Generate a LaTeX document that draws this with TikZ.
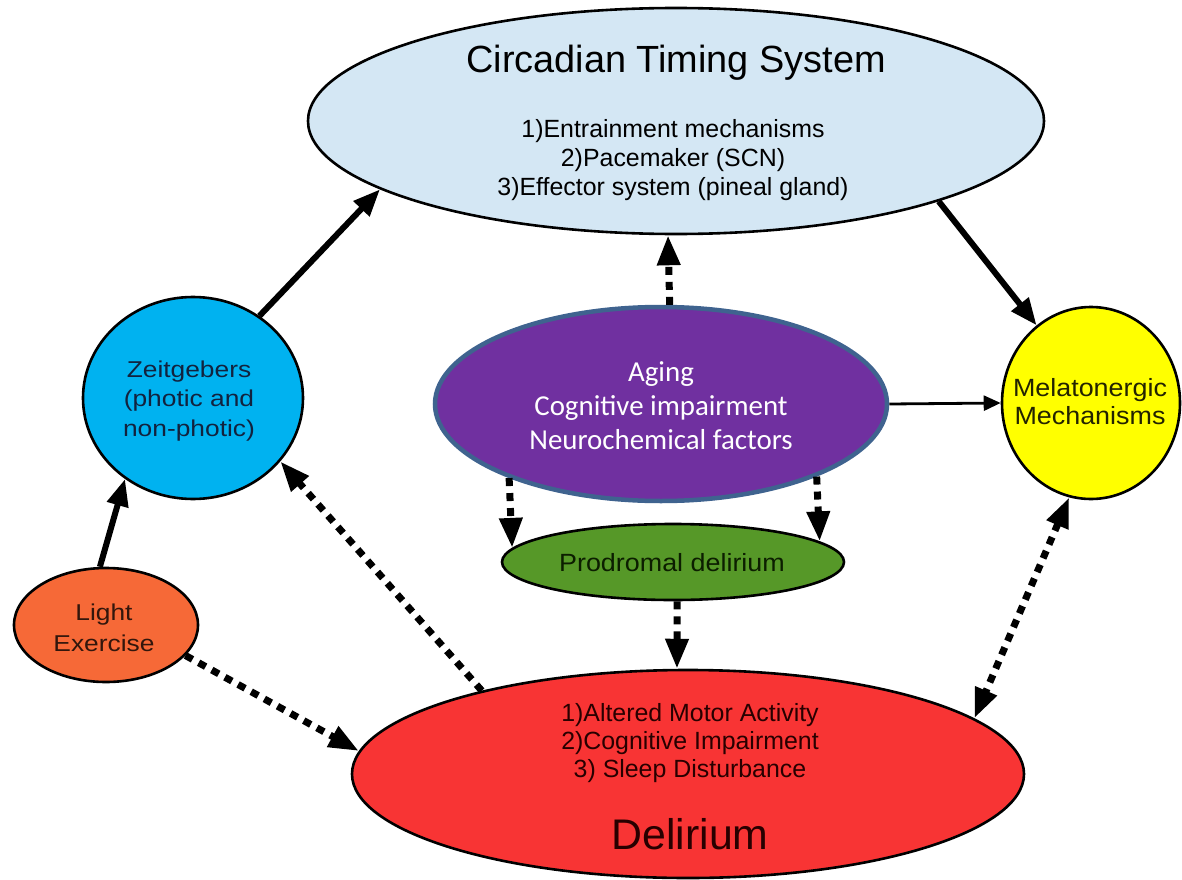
\documentclass[tikz,border=0pt]{standalone}
\usepackage{fontspec}
\setmainfont{Liberation Sans}
\newfontfamily\wideA[FakeStretch=1.15]{Liberation Sans}
\newfontfamily\midA[FakeStretch=1.08]{Liberation Sans}
\newfontfamily\calibri{Carlito}
\usetikzlibrary{arrows.meta,shapes.geometric}

\definecolor{ctsblue}{RGB}{212,231,244}
\definecolor{zeitblue}{RGB}{0,178,240}
\definecolor{lightorange}{RGB}{246,105,55}
\definecolor{agepurple}{RGB}{112,48,160}
\definecolor{ageborder}{RGB}{63,99,143}
\definecolor{prodgreen}{RGB}{86,152,40}
\definecolor{delred}{RGB}{248,52,52}
\definecolor{melyellow}{RGB}{255,255,0}

\tikzset{
  oval/.style={ellipse, draw=black, line width=2.6bp, inner sep=0pt},
  txt/.style={align=center, inner sep=0pt},
  solidarr/.style={line width=6bp, -{Triangle[length=27bp,width=21bp]}},
  dotarr/.style={line width=7bp, dash pattern=on 8bp off 7bp, -{Triangle[length=30bp,width=22bp]}},
  dotboth/.style={line width=7bp, dash pattern=on 8bp off 7bp, {Triangle[length=30bp,width=22bp]}-{Triangle[length=30bp,width=22bp]}},
  thinarr/.style={line width=2.8bp, -{Triangle[length=17bp,width=15bp]}},
}

\begin{document}
\begin{tikzpicture}[x=1bp,y=-1bp]
  \fill[white] (0,0) rectangle (1182,880);
  \useasboundingbox (0,0) rectangle (1182,880);

  % shapes
  \node[oval, fill=ctsblue, minimum width=736bp, minimum height=226bp] (cts) at (676,121) {};
  \node[oval, fill=zeitblue, minimum width=220bp, minimum height=202bp] (zeit) at (193,398) {};
  \node[oval, fill=lightorange, minimum width=184bp, minimum height=114bp] (light) at (106,625) {};
  \node[ellipse, draw=ageborder, line width=4.5bp, inner sep=0pt, fill=agepurple, minimum width=452bp, minimum height=194bp] (age) at (661,404) {};
  \node[oval, fill=prodgreen, minimum width=342bp, minimum height=76bp] (prod) at (673,562) {};
  \node[oval, fill=delred, minimum width=672bp, minimum height=208bp] (del) at (688,774) {};
  \node[oval, fill=melyellow, minimum width=178bp, minimum height=192bp] (mel) at (1091,403) {};

  % texts
  \node[txt, font=\fontsize{38}{44}\selectfont] (ctsTitle) at (676,63) {Circadian Timing System};
  \node[txt, font=\fontsize{25}{29}\selectfont] (ctsList) at (673,160) {1)Entrainment mechanisms\\2)Pacemaker (SCN)\\3)Effector system (pineal gland)};
  \node[txt, font=\fontsize{23}{30}\selectfont\wideA, text={rgb,255:red,18;green,34;blue,62}] (zeitText) at (189,401) {Zeitgebers\\(photic and\\non-photic)};
  \node[txt, font=\fontsize{23}{31}\selectfont\wideA, text={rgb,255:red,50;green,22;blue,12}] (lightText) at (104,628) {Light\\Exercise};
  \node[txt, font=\fontsize{29}{34}\selectfont\calibri, text=white] (ageText) at (661,406) {Aging\\Cognitive impairment\\Neurochemical factors};
  \node[txt, font=\fontsize{25}{28}\selectfont\midA, text={rgb,255:red,35;green,35;blue,0}] (melText) at (1090,402) {Melatonergic\\Mechanisms};
  \node[txt, font=\fontsize{25}{29}\selectfont\midA, text={rgb,255:red,12;green,30;blue,0}] (prodText) at (672,563) {Prodromal delirium};
  \node[txt, font=\fontsize{25}{28}\selectfont, text={rgb,255:red,40;green,0;blue,0}] (delList) at (690,743) {1)Altered Motor Activity\\2)Cognitive Impairment\\3) Sleep Disturbance};
  \node[txt, font=\fontsize{43}{48}\selectfont, text={rgb,255:red,40;green,0;blue,0}] (delTitle) at (690,834) {Delirium};

  % solid connectors
  \draw[solidarr] (zeit.51.9) -- (cts.193.7);
  \draw[solidarr] (light.96) -- (zeit.230.1);
  \draw[solidarr] (cts.343) -- (mel.125.3);
  \draw[thinarr] (age.east) -- (mel.west);

  % dotted connectors
  \draw[dotarr] (age.85.9) -- (cts.266.1);
  \draw[dotarr] (age.206.35) -- (prod.175.2);
  \draw[dotarr] (age.335.77) -- (prod.8.1);
  \draw[dotarr] (prod.276) -- (del.96.2);
  \draw[dotarr] (light.339.6) -- (del.176);
  \draw[dotarr] (del.158.2) -- (zeit.324.5);
  \draw[dotboth] (mel.257.9) -- (del.11.9);
\end{tikzpicture}
\end{document}
